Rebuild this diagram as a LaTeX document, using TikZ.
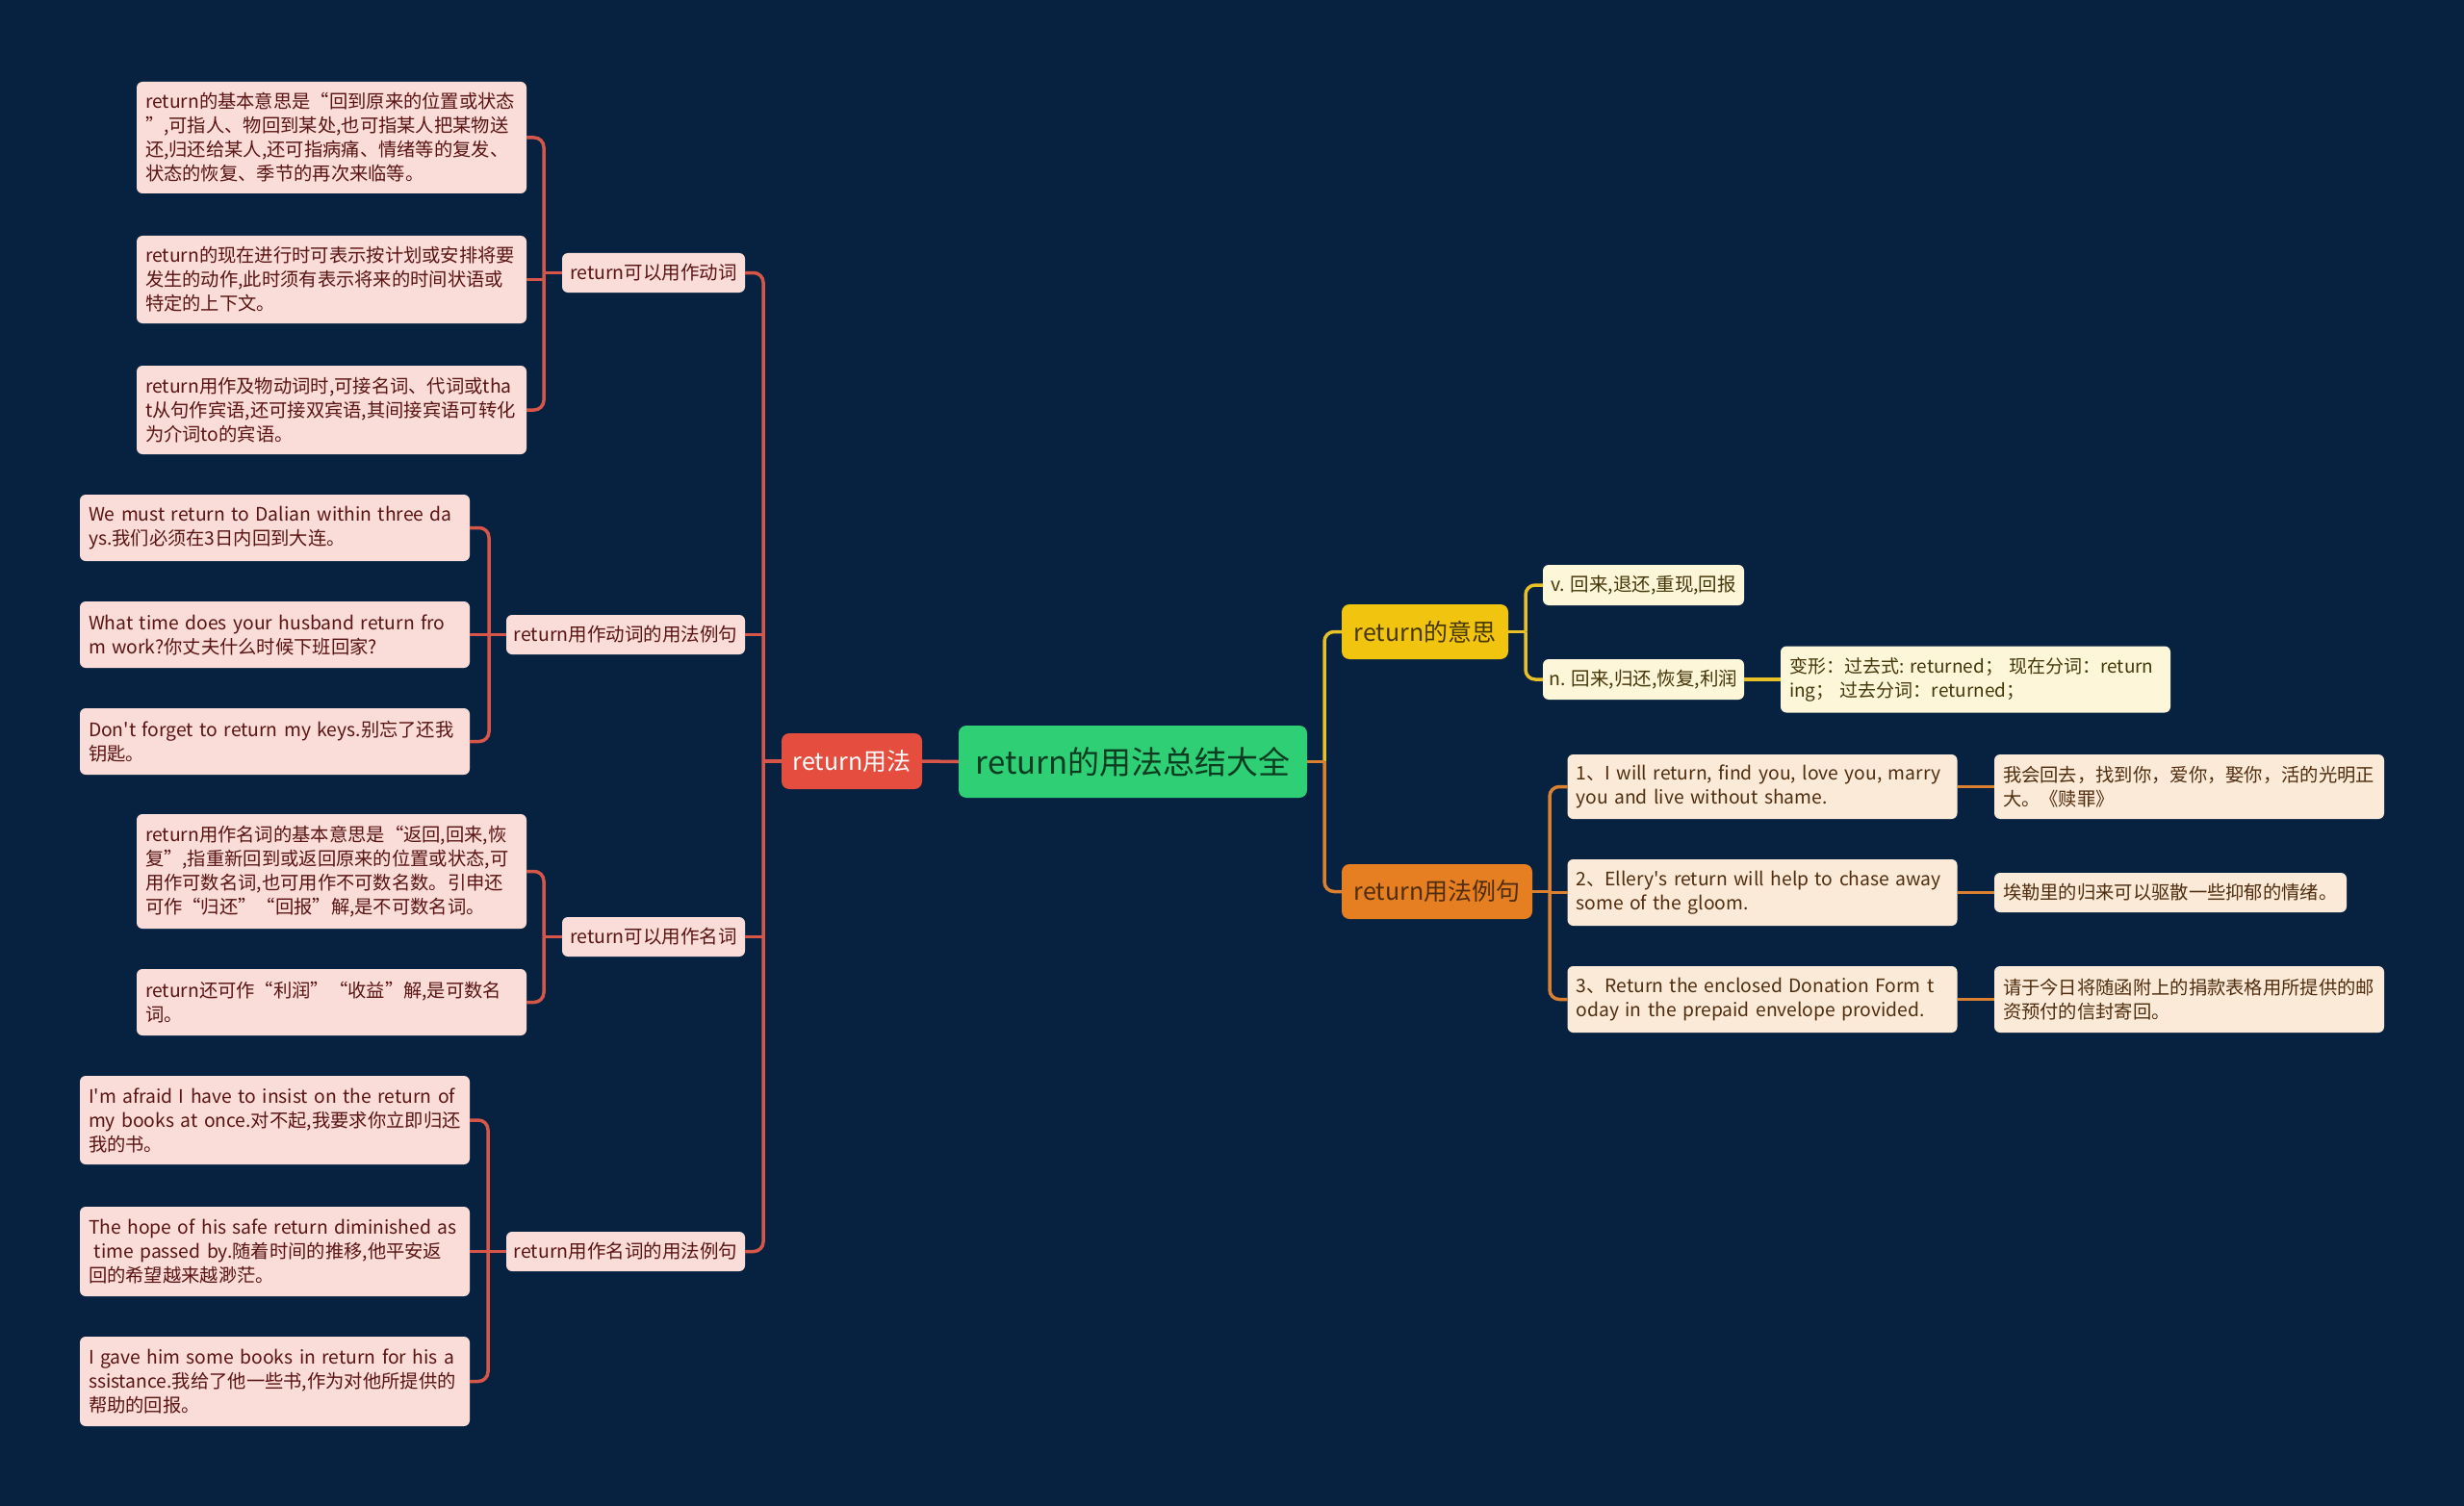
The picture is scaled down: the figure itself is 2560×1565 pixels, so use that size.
\documentclass[tikz,border=0pt]{standalone}
\usepackage{fontspec}
\setmainfont{Noto Sans CJK SC}[Ligatures=TeXOff]
\usetikzlibrary{calc}

\definecolor{bgnavy}{RGB}{6,34,64}
\definecolor{rootgreen}{RGB}{46,207,117}
\definecolor{rootink}{RGB}{12,60,32}
\definecolor{usered}{RGB}{229,77,62}
\definecolor{meanyellow}{RGB}{241,196,15}
\definecolor{exorange}{RGB}{230,126,34}
\definecolor{pinkfill}{RGB}{250,221,217}
\definecolor{pinkink}{RGB}{90,20,20}
\definecolor{creamfill}{RGB}{253,246,217}
\definecolor{creamink}{RGB}{70,55,10}
\definecolor{peachfill}{RGB}{251,234,216}
\definecolor{peachink}{RGB}{80,45,15}
\definecolor{redline}{RGB}{214,86,74}
\definecolor{yellowline}{RGB}{232,192,40}
\definecolor{orangeline}{RGB}{218,128,48}

\begin{document}
\begin{tikzpicture}[x=1pt, y=-1pt,
    every node/.style={outer sep=0pt},
    leaf/.style={rounded corners=6pt, inner xsep=9pt, inner ysep=0pt, text width=387pt, align=left, font=\fontsize{19.3}{25}\selectfont},
    pinkleaf/.style={leaf, fill=pinkfill, text=pinkink},
    creamleaf/.style={leaf, fill=creamfill, text=creamink},
    peachleaf/.style={leaf, fill=peachfill, text=peachink},
    sub/.style={rounded corners=6pt, inner sep=0pt, minimum height=41pt, font=\fontsize{19.5}{25}\selectfont},
    main/.style={rounded corners=8pt, inner sep=0pt, minimum height=57pt, font=\fontsize{25}{30}\selectfont},
    rline/.style={draw=redline, line width=3.5pt, rounded corners=10pt},
    yline/.style={draw=yellowline, line width=3.5pt, rounded corners=10pt},
    oline/.style={draw=orangeline, line width=3.5pt, rounded corners=10pt}]
    \fill[bgnavy] (0,0) rectangle (2560,1565);
    \useasboundingbox (0,0) rectangle (2560,1565);

    % centre
    \node[rounded corners=8pt, fill=rootgreen, text=rootink, minimum width=362pt, minimum height=75pt, font=\fontsize{33}{38}\selectfont](root) at (1177, 791.5) {return的用法总结大全};

    % first level
    \node[main, fill=usered, text=white, minimum width=146pt, minimum height=58pt](usage) at (885, 791) {return用法};
    \node[main, fill=meanyellow, text=creamink, minimum width=173pt](meaning) at (1480.5, 656.5) {return的意思};
    \node[main, fill=exorange, text=peachink, minimum width=198pt](examples) at (1493, 926.5) {return用法例句};

    % left, second level
    \node[sub, fill=pinkfill, text=pinkink, minimum width=190pt](verb) at (679, 283.5) {return可以用作动词};
    \node[sub, fill=pinkfill, text=pinkink, minimum width=248pt](verbex) at (650, 659.5) {return用作动词的用法例句};
    \node[sub, fill=pinkfill, text=pinkink, minimum width=190pt](noun) at (679, 973.5) {return可以用作名词};
    \node[sub, fill=pinkfill, text=pinkink, minimum width=248pt](nounex) at (650, 1300.5) {return用作名词的用法例句};

    % verb
    \node[pinkleaf, minimum height=116pt](vA) at (344.5, 143) {return的基本意思是“回到原来的位置或状态\\”,可指人、物回到某处,也可指某人把某物送\\还,归还给某人,还可指病痛、情绪等的复发、\\状态的恢复、季节的再次来临等。};
    \node[pinkleaf, minimum height=91pt](vB) at (344.5, 290.5) {return的现在进行时可表示按计划或安排将要\\发生的动作,此时须有表示将来的时间状语或\\特定的上下文。};
    \node[pinkleaf, minimum height=92pt](vC) at (344.5, 426) {return用作及物动词时,可接名词、代词或tha\\t从句作宾语,还可接双宾语,其间接宾语可转化\\为介词to的宾语。};

    % verb examples
    \node[pinkleaf, minimum height=69pt](eA) at (285.5, 548.5) {We must return to Dalian within three da\\ys.我们必须在3日内回到大连。};
    \node[pinkleaf, minimum height=69pt](eB) at (285.5, 659.5) {What time does your husband return fro\\m work?你丈夫什么时候下班回家?};
    \node[pinkleaf, minimum height=69pt](eC) at (285.5, 770.5) {Don't forget to return my keys.别忘了还我\\钥匙。};

    % noun
    \node[pinkleaf, minimum height=119pt](nA) at (344.5, 905.5) {return用作名词的基本意思是“返回,回来,恢\\复”,指重新回到或返回原来的位置或状态,可\\用作可数名词,也可用作不可数名数。引申还\\可作“归还”“回报”解,是不可数名词。};
    \node[pinkleaf, minimum height=69pt](nB) at (344.5, 1041.5) {return还可作“利润”“收益”解,是可数名\\词。};

    % noun examples
    \node[pinkleaf, minimum height=92pt](xA) at (285.5, 1164) {I'm afraid I have to insist on the return of\\my books at once.对不起,我要求你立即归还\\我的书。};
    \node[pinkleaf, minimum height=93pt](xB) at (285.5, 1300.5) {The hope of his safe return diminished as\\\hspace*{0.3em}time passed by.随着时间的推移,他平安返\\回的希望越来越渺茫。};
    \node[pinkleaf, minimum height=93pt](xC) at (285.5, 1435.5) {I gave him some books in return for his a\\ssistance.我给了他一些书,作为对他所提供的\\帮助的回报。};

    % meaning
    \node[sub, fill=creamfill, text=creamink, minimum width=209pt, minimum height=42pt](mv) at (1707.5, 608) {v. 回来,退还,重现,回报};
    \node[sub, fill=creamfill, text=creamink, minimum width=209pt, minimum height=42pt](mn) at (1707.5, 706) {n. 回来,归还,恢复,利润};
    \node[creamleaf, minimum height=69pt, font=\fontsize{19}{25}\selectfont](form) at (2052.5, 706) {变形：过去式:~returned；~现在分词：return\\ing；~过去分词：returned；};

    % example sentences
    \node[peachleaf, minimum height=67pt](s1) at (1831, 817.5) {1、I will return, find you, love you, marry\\you and live without shame.};
    \node[peachleaf, minimum height=69pt](s2) at (1831, 927.5) {2、Ellery's return will help to chase away\\some of the gloom.};
    \node[peachleaf, minimum height=69pt](s3) at (1831, 1038.5) {3、Return the enclosed Donation Form t\\oday in the prepaid envelope provided.};
    \node[peachleaf, minimum height=67pt](t1) at (2274.5, 817.5) {我会回去，找到你，爱你，娶你，活的光明正\\大。《赎罪》};
    \node[peachleaf, text width=348pt, minimum height=41pt](t2) at (2255, 927.5) {埃勒里的归来可以驱散一些抑郁的情绪。};
    \node[peachleaf, minimum height=69pt](t3) at (2274.5, 1038.5) {请于今日将随函附上的捐款表格用所提供的邮\\资预付的信封寄回。};

    % joints
    \coordinate (lj) at ($(usage.west)+(-19,0)$);
    \coordinate (vj) at ($(verb.west)+(-19,0)$);
    \coordinate (ej) at ($(verbex.west)+(-18,0)$);
    \coordinate (nj) at ($(noun.west)+(-19,0)$);
    \coordinate (xj) at ($(nounex.west)+(-19,0)$);
    \coordinate (rj) at ($(root.east)+(18,0)$);
    \coordinate (mj) at ($(meaning.east)+(18,0)$);
    \coordinate (sj) at ($(examples.east)+(18,0)$);

    % left branch
    \draw[rline] (usage.east) -- (root.west);
    \draw[rline] (usage.west) -- (lj);
    \draw[rline] (verb.east) -| (lj);
    \draw[rline] (nounex.east) -| (lj);
    \draw[rline] (verbex.east) -- (verbex.east -| lj);
    \draw[rline] (noun.east) -- (noun.east -| lj);

    \draw[rline] (verb.west) -- (vj);
    \draw[rline] (vA.east) -| (vj);
    \draw[rline] (vC.east) -| (vj);
    \draw[rline] (vB.east) -- (vB.east -| vj);

    \draw[rline] (verbex.west) -- (ej);
    \draw[rline] (eA.east) -| (ej);
    \draw[rline] (eC.east) -| (ej);
    \draw[rline] (eB.east) -- (eB.east -| ej);

    \draw[rline] (noun.west) -- (nj);
    \draw[rline] (nA.east) -| (nj);
    \draw[rline] (nB.east) -| (nj);

    \draw[rline] (nounex.west) -- (xj);
    \draw[rline] (xA.east) -| (xj);
    \draw[rline] (xC.east) -| (xj);
    \draw[rline] (xB.east) -- (xB.east -| xj);

    % right branches
    \draw[yline] (meaning.west) -| (rj);
    \draw[oline] (examples.west) -| (rj);
    \draw[oline] (root.east) -- (rj);

    \draw[yline] (meaning.east) -- (mj);
    \draw[yline] (mv.west) -| (mj);
    \draw[yline] (mn.west) -| (mj);
    \draw[yline] (mn.east) -- (form.west);

    \draw[oline] (examples.east) -- (sj);
    \draw[oline] (s1.west) -| (sj);
    \draw[oline] (s3.west) -| (sj);
    \draw[oline] (s2.west) -- (s2.west -| sj);
    \draw[oline] (s1.east) -- (t1.west);
    \draw[oline] (s2.east) -- (t2.west);
    \draw[oline] (s3.east) -- (t3.west);
\end{tikzpicture}
\end{document}
